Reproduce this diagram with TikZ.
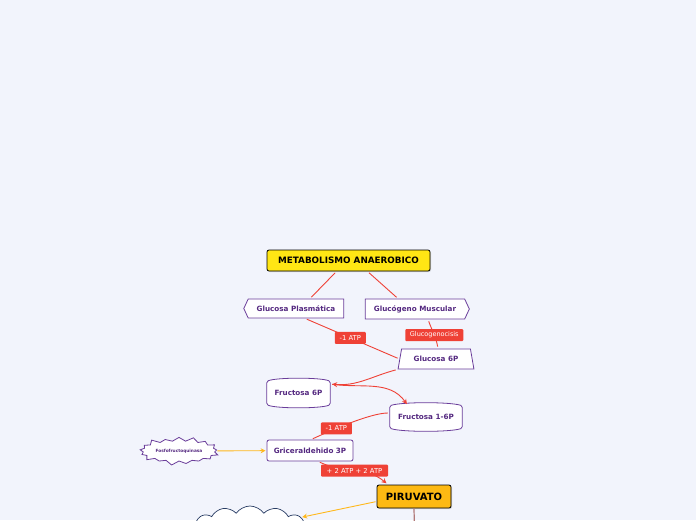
\documentclass[tikz,border=0pt]{standalone}
\usepackage{fontspec}
\setmainfont{DejaVu Sans}
\usepackage{xcolor}
\usepackage{tikz}
\usetikzlibrary{arrows.meta,shapes.symbols,shapes.geometric,shadows}
\definecolor{fondo}{RGB}{242,244,252}
\definecolor{morado}{RGB}{106,61,154}
\definecolor{textomorado}{RGB}{84,40,128}
\definecolor{rojo}{RGB}{239,65,54}
\definecolor{naranja}{RGB}{253,185,19}
\definecolor{amarillo}{RGB}{255,230,20}
\definecolor{ambar}{RGB}{255,184,28}
\definecolor{cafe}{RGB}{176,120,120}
\definecolor{azulnube}{RGB}{40,60,100}

\tikzset{
  concepto/.style={draw=morado,fill=white,line width=0.8pt,text=textomorado,
    font=\fontsize{7.2}{9}\selectfont\bfseries,inner sep=0pt,align=center},
  cinta/.style={text=textomorado,font=\fontsize{7.2}{9}\selectfont\bfseries,
    inner sep=0pt},
  borde/.style={draw=morado,fill=white,line width=0.8pt,rounded corners=1.5pt},
  etiqueta/.style={fill=rojo,text=white,font=\fontsize{6.8}{8}\selectfont,
    rounded corners=1pt,inner sep=0pt,minimum height=12pt},
  rama/.style={draw=rojo,line width=0.9pt,shorten <=2pt,shorten >=2pt},
  flecha/.style={rama,-{Stealth[length=5pt,width=5pt]}},
  enlace/.style={draw=ambar,line width=0.9pt,shorten <=1pt,shorten >=1pt,
    -{Stealth[length=5pt,width=5pt]}}
}

\begin{document}
\begin{tikzpicture}[x=1pt,y=-1pt]
\fill[fondo] (0,0) rectangle (696,520);
\useasboundingbox (0,0) rectangle (696,520);
\clip (0,0) rectangle (696,520);

% conceptos
\node[draw=black,fill=amarillo,line width=0.8pt,rounded corners=2pt,
  drop shadow={shadow xshift=1pt,shadow yshift=-1pt,opacity=0.3},
  minimum width=163pt,minimum height=21pt,font=\fontsize{8.8}{10}\selectfont\bfseries]
  (raiz) at (348.5,260.5) {METABOLISMO ANAEROBICO};
\node[concepto,signal,signal to=west,signal from=nowhere,signal pointer angle=130,
  minimum width=100pt,minimum height=19pt] (gp) at (296,308.5) {Glucosa Plasmática};
\node[concepto,signal,signal to=east,signal from=nowhere,signal pointer angle=130,
  minimum width=104pt,minimum height=20pt] (gm) at (415,309) {Glucógeno Muscular};
\node[concepto,trapezium,trapezium stretches=true,trapezium left angle=68,
  trapezium right angle=68,minimum width=76pt,minimum height=20pt]
  (g6p) at (436,359) {Glucosa 6P};
\node[cinta,minimum width=63pt,minimum height=23pt] (f6p) at (298.5,393) {};
\draw[borde] (f6p.south west) -- (f6p.north west)
  .. controls +(10,-4) and +(-10,-4) .. (f6p.north east) -- (f6p.south east)
  .. controls +(-10,4) and +(10,4) .. cycle;
\node[cinta] at (f6p) {Fructosa 6P};
\node[cinta,minimum width=72pt,minimum height=22pt] (f16p) at (426,417) {};
\draw[borde] (f16p.south west) -- (f16p.north west)
  .. controls +(12,-4) and +(-12,-4) .. (f16p.north east) -- (f16p.south east)
  .. controls +(-12,4) and +(12,4) .. cycle;
\node[cinta] at (f16p) {Fructosa 1-6P};
\node[concepto,rounded corners=2pt,minimum width=86pt,minimum height=21pt]
  (gr) at (310,450.5) {Griceraldehido 3P};
\node[concepto,starburst,starburst points=17,starburst point height=5pt,
  font=\fontsize{4.3}{5}\selectfont\bfseries,inner xsep=2pt,inner ysep=5pt]
  (pfk) at (179,451) {Fosfofructoquinasa};
\node[draw=black,fill=naranja,line width=0.8pt,rounded corners=2pt,
  drop shadow={shadow xshift=1pt,shadow yshift=-1pt,opacity=0.3},
  minimum width=74pt,minimum height=23pt,font=\fontsize{10}{12}\selectfont\bfseries]
  (piru) at (414,496.5) {PIRUVATO};
\node[cloud,draw=azulnube,fill=white,line width=0.7pt,cloud puffs=13,
  cloud puff arc=110,aspect=2.4,minimum width=116pt,minimum height=44pt]
  (nube) at (250,528) {};
\coordinate (abajo) at (414.5,530);

% ramas
\draw[rama] ([xshift=-12pt]raiz.south) -- ([xshift=14pt]gp.north);
\draw[rama] ([xshift=19pt]raiz.south) -- ([xshift=-17pt]gm.north);
\draw[rama] ([xshift=9pt]gp.south) -- (g6p.west)
  node[etiqueta,pos=0.48,minimum width=31pt] {-1 ATP};
\draw[rama] ([xshift=13pt]gm.south) to[out=-70,in=100]
  node[etiqueta,pos=0.55,minimum width=58pt,font=\fontsize{6.5}{8}\selectfont] {Glucogenocisis}
  ([xshift=2pt]g6p.north);
\draw[flecha] (g6p.bottom left corner) to[out=195,in=-5] ([yshift=9pt]f6p.east);
\draw[flecha] ([yshift=9pt]f6p.east) to[out=-8,in=125] ([xshift=-18pt]f16p.north);
\draw[rama] ([yshift=4pt]f16p.west) to[out=180,in=25,looseness=0.6]
  node[etiqueta,pos=0.65,minimum width=31pt] {-1 ATP} ([xshift=1pt]gr.north);
\draw[flecha] ([xshift=8pt]gr.south) to[out=-25,in=140]
  node[etiqueta,pos=0.5,minimum width=67pt] {+ 2 ATP + 2 ATP} ([xshift=-26pt]piru.north);
\draw[enlace] (pfk) -- (gr);
\draw[enlace] ([yshift=-5pt]piru.west) -- (nube);
\draw[draw=cafe,line width=1.2pt] (piru.south) -- (abajo);
\end{tikzpicture}
\end{document}
